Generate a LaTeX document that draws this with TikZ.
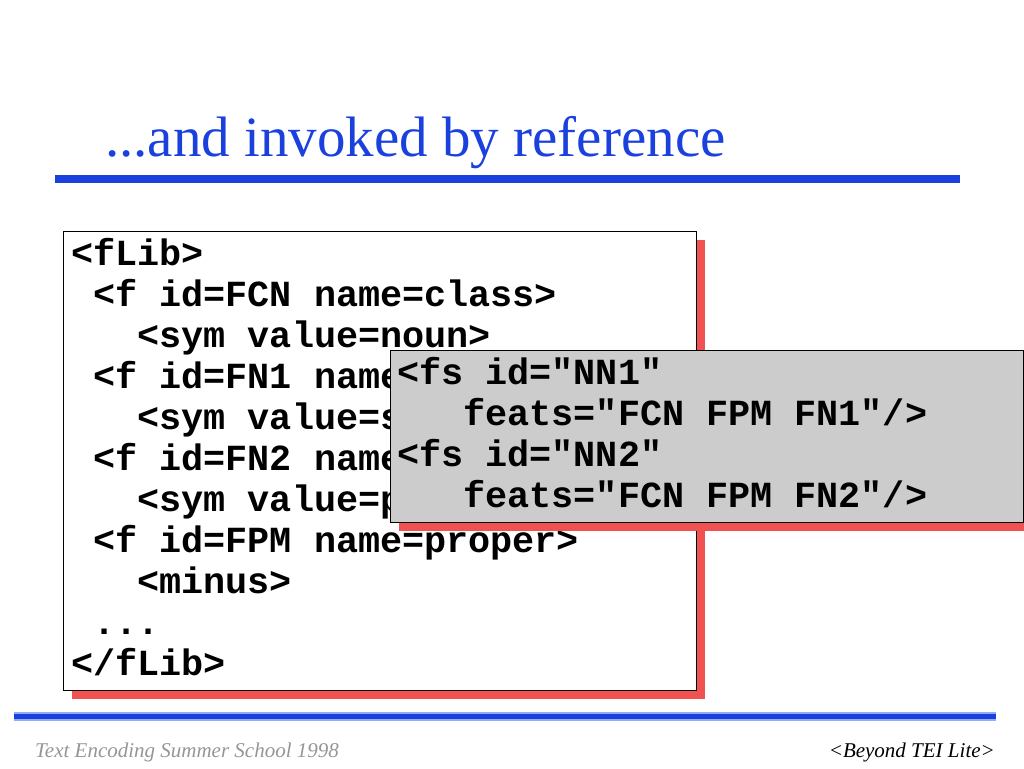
\documentclass[tikz,border=0pt]{standalone}
\usepackage{fontspec}
\setmainfont{Liberation Serif}
\newfontfamily\codefont{Liberation Mono}
\usepackage{tikz}
\usetikzlibrary{positioning, shadows}
\definecolor{slideblue}{RGB}{26,64,222}
\definecolor{lightblue}{RGB}{140,175,245}
\definecolor{shadowred}{RGB}{240,82,82}
\definecolor{footgray}{RGB}{150,150,150}

\begin{document}
\begin{tikzpicture} [x=1pt, y=-1pt, align=left, inner sep=0pt,
	box/.style={draw, line width=1.2pt, anchor=north west, minimum width=633pt,
		drop shadow={shadow xshift=8pt, shadow yshift=-8pt, fill=shadowred, opacity=1}},
	code/.style={anchor=north west, font=\codefont\bfseries\fontsize{36.8}{41}\selectfont},
	foot/.style={anchor=base, font=\itshape\fontsize{21}{24}\selectfont}]

\useasboundingbox (0,0) rectangle (1024,768);

\node[anchor=base west, text=slideblue, font=\fontsize{57}{62}\selectfont]	(title)	at (105,156)	{...and invoked by reference};
\draw[slideblue, line width=8pt]	(55,179) -- (960,179);

\node[box, fill=white, minimum height=459pt]	(flib)	at (63,231)	{};
\node[code]	(fliblines)	at (71,238)	{<fLib>\\
\ <f id=FCN name=class>\\
\ \ \ <sym value=noun>\\
\ <f id=FN1 name\\
\ \ \ <sym value=s\\
\ <f id=FN2 name\\
\ \ \ <sym value=p\\
\ <f id=FPM name=proper>\\
\ \ \ <minus>\\
\ ...\\
</fLib>};

\node[box, fill=black!20, minimum height=172pt]	(fs)	at (390,350)	{};
\node[code]	(fslines)	at (397,357)	{<fs id="NN1"\\
\ \ \ feats="FCN FPM FN1"/>\\
<fs id="NN2"\\
\ \ \ feats="FCN FPM FN2"/>};

\draw[lightblue, line width=9pt]	(14,716.5) -- (996,716.5);
\draw[slideblue, line width=4.5pt]	(14,716.5) -- (996,716.5);

\node[foot, anchor=base west, text=footgray]	(school)	at (35,757)	{Text Encoding Summer School 1998};
\node[foot, anchor=base east]	(beyond)	at (995,757)	{<Beyond TEI Lite>};

\end{tikzpicture}
\end{document}
